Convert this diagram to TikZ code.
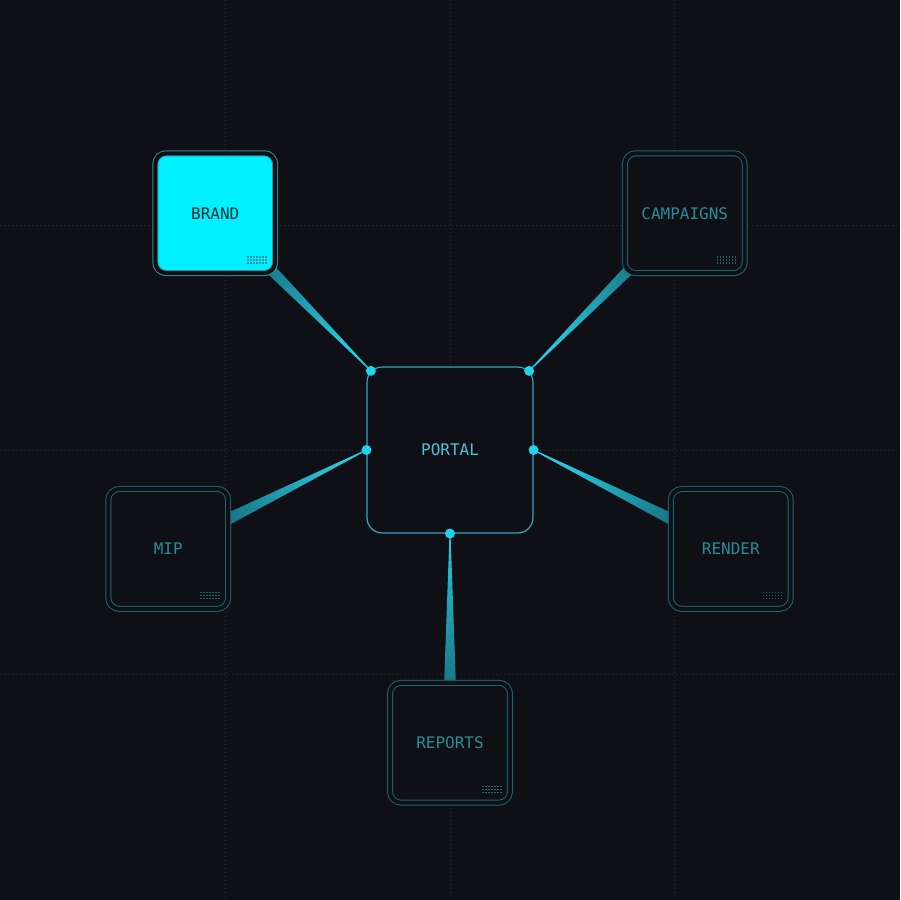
\documentclass[tikz,border=0pt]{standalone}
\usepackage{fontspec}
\setmonofont{DejaVu Sans Mono}
\usetikzlibrary{calc}

\definecolor{bgc}{HTML}{0E1015}
\definecolor{gridc}{HTML}{2A2F38}
\definecolor{satline}{HTML}{1E6570}
\definecolor{sattext}{HTML}{2B8C9A}
\definecolor{brandfill}{HTML}{00F0FF}
\definecolor{brandline}{HTML}{2F8F9C}
\definecolor{brandtext}{HTML}{0D2E35}
\definecolor{portalline}{HTML}{3AA3BC}
\definecolor{portaltext}{HTML}{4FC3DA}
\definecolor{dotc}{HTML}{1FD3F0}
\definecolor{beamc}{HTML}{1796A9}
\definecolor{beamhot}{HTML}{2CC8E0}
\definecolor{beamcold}{HTML}{0E5864}

\pgfdeclarelayer{back}
\pgfdeclarelayer{beams}
\pgfsetlayers{back,beams,main}

% little dot pattern in the lower right corner of a box
\newcommand\chipgrid[2]{%
  \foreach \i in {0,...,6}
    \foreach \j in {0,1,2}
      \fill[#2] ($(#1.center)+(32+3*\i,43+3*\j)$) rectangle +(1.6,1.6);
}

\begin{document}
\begin{tikzpicture}[x=1pt,y=-1pt,
  sat node/.style={rectangle,rounded corners=11pt,minimum size=120pt,inner sep=0pt,
    draw=satline,line width=1pt,double=bgc,double distance=4pt,fill=bgc,
    text=sattext,font=\ttfamily\fontsize{16}{18}\selectfont},
  hot node/.style={sat node,draw=brandline,fill=brandfill,text=brandtext},
  hub node/.style={rectangle,rounded corners=15pt,minimum size=166pt,inner sep=0pt,
    draw=portalline,line width=1.2pt,fill=bgc,text=portaltext,
    font=\ttfamily\fontsize{16}{18}\selectfont},
  gridline/.style={gridc,line width=0.8pt,dash pattern=on 1pt off 3pt},
  beam/.style={top color=beamcold,bottom color=beamhot,shading angle=#1}]

  \begin{pgfonlayer}{back}
    \fill[bgc] (0,0) rectangle (900,900);
    \foreach \g in {225,450,675} {
      \draw[gridline] (\g,0) -- (\g,900);
      \draw[gridline] (0,\g) -- (900,\g);
    }
  \end{pgfonlayer}

  % hub and satellites
  \node[hub node] (portal) at (450,450) {PORTAL};
  \node[hot node] (brand) at (215,213) {BRAND};
  \node[sat node] (campaigns) at (685,213) {CAMPAIGNS};
  \node[sat node] (mip) at (168,549) {MIP};
  \node[sat node] (render) at (731,549) {RENDER};
  \node[sat node] (reports) at (450,743) {REPORTS};

  \coordinate (pnw) at ($(portal.north west)+(4.4,4.4)$);
  \coordinate (pne) at ($(portal.north east)+(-4.4,4.4)$);
  \coordinate (pw) at (portal.west);
  \coordinate (pe) at (portal.east);
  \coordinate (ps) at (portal.south);

  % tapered beams, hidden under the boxes
  \begin{pgfonlayer}{beams}
    \foreach \p/\s/\a in {pnw/brand/45,pne/campaigns/-45,pw/mip/116.5,pe/render/-116.5,ps/reports/180} {
      \shade[beam=\a] ($(\p)!0.5pt!90:(\s.center)$) -- ($(\p)!0.5pt!-90:(\s.center)$)
        -- ($(\s.center)!8pt!90:(\p)$) -- ($(\s.center)!8pt!-90:(\p)$) -- cycle;
    }
  \end{pgfonlayer}

  \chipgrid{brand}{beamc}
  \foreach \s in {campaigns,mip,render,reports} {
    \chipgrid{\s}{satline}
  }

  % connection dots
  \foreach \p in {pnw,pne,pw,pe,ps}
    \fill[dotc] (\p) circle (5pt);
\end{tikzpicture}
\end{document}
